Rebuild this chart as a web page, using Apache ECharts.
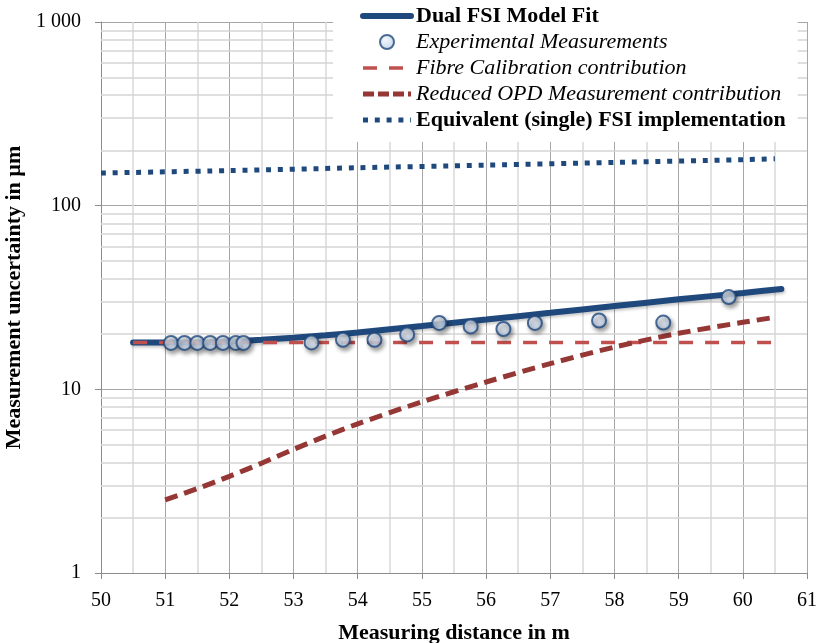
<!DOCTYPE html>
<html>
<head>
<meta charset="utf-8">
<script src="https://cdn.jsdelivr.net/npm/echarts@6/dist/echarts.min.js"></script>
<style>
html,body{margin:0;padding:0;background:#fff;}
#c{width:817px;height:643px;}
</style>
</head>
<body>
<div id="c"></div>
<script>
// ---- data ----
var seriesNames = ['Dual FSI Model Fit', 'Experimental Measurements', 'Fibre Calibration contribution', 'Reduced OPD Measurement contribution', 'Equivalent (single) FSI implementation'];

var modelX = [50.5, 51, 51.5, 52, 52.5, 53, 53.5, 54, 55, 56, 57, 58, 59, 60, 60.6];
var modelY = [18.0, 18.0, 18.0, 18.2, 18.6, 19.1, 19.7, 20.4, 22.1, 24.0, 26.1, 28.4, 30.9, 33.5, 35.2];

var expX = [51.09, 51.3, 51.5, 51.7, 51.9, 52.1, 52.22, 53.28, 53.77, 54.26, 54.77, 55.27, 55.76, 56.27, 56.76, 57.76, 58.76, 59.78];
var expY = [17.9, 17.9, 17.9, 17.9, 17.9, 17.9, 17.9, 18.0, 18.6, 18.6, 19.9, 23.0, 22.0, 21.3, 23.0, 23.7, 23.1, 31.8];

var fibreX = [50.5, 60.5];
var fibreY = [18.0, 18.0];

var opdX = [51, 51.5, 52, 52.5, 53, 53.5, 54, 55, 56, 57, 58, 59, 60, 60.5];
var opdY = [2.50, 2.88, 3.36, 3.96, 4.71, 5.56, 6.49, 8.55, 10.96, 13.80, 16.98, 20.18, 23.17, 24.66];

var singleX = [50, 52, 54, 56, 58, 60, 60.5];
var singleY = [150.5, 155.3, 160.8, 166.3, 172.0, 178.0, 180.0];

var yTickValues = [1, 10, 100, 1000];
var yTickLabels = ['1', '10', '100', '1 000'];
var yMinorGrid = [2,3,4,5,6,7,8,9,20,30,40,50,60,70,80,90,200,300,400,500,600,700,800,900];

function pairs(xs, ys){ return xs.map(function(x,i){ return [x, ys[i]]; }); }

var FONT = 'Liberation Serif';
var BLUE = '#1F497D', RED = '#C0504D', DARKRED = '#953735';
var chart = echarts.init(document.getElementById('c'), null, {renderer:'canvas'});

var hideSym = { opacity: 0 };

var option = {
  animation: false,
  backgroundColor: '#ffffff',
  grid: { left: 101, right: 10, top: 22, bottom: 70, containLabel: false, outerBoundsMode: 'none' },
  legend: {
    orient: 'vertical',
    left: 333, top: 0,
    padding: [5, 12, 11, 27],
    backgroundColor: '#ffffff',
    itemWidth: 48, itemHeight: 14, itemGap: 4,
    textStyle: { fontFamily: FONT, fontSize: 22, color: '#000', lineHeight: 22 },
    data: [
      { name: seriesNames[0], textStyle: { fontWeight: 'bold' }, itemStyle: hideSym,
        lineStyle: { width: 6, color: BLUE, type: 'solid', cap: 'round' } },
      { name: seriesNames[1], textStyle: { fontStyle: 'italic' } },
      { name: seriesNames[2], textStyle: { fontStyle: 'italic' }, itemStyle: hideSym,
        lineStyle: { width: 3.5, color: RED, type: [14, 12] } },
      { name: seriesNames[3], textStyle: { fontStyle: 'italic' }, itemStyle: hideSym,
        lineStyle: { width: 5, color: DARKRED, type: [11, 4] } },
      { name: seriesNames[4], textStyle: { fontWeight: 'bold' }, itemStyle: hideSym,
        lineStyle: { width: 5, color: BLUE, type: [5, 6.8] } }
    ]
  },
  xAxis: {
    type: 'value', min: 50, max: 61, interval: 1,
    name: 'Measuring distance in m', nameLocation: 'middle', nameGap: 49,
    nameTextStyle: { fontFamily: FONT, fontSize: 22, fontWeight: 'bold', color: '#000' },
    axisLine: { show: true, onZero: false, lineStyle: { color: '#8c8c8c', width: 1 } },
    axisTick: { show: true, length: 6, lineStyle: { color: '#8c8c8c' } },
    axisLabel: { fontFamily: FONT, fontSize: 20, color: '#000', margin: 18 },
    splitLine: { show: true, lineStyle: { color: '#a6a6a6', width: 1 } },
    minorTick: { show: false, splitNumber: 2 },
    minorSplitLine: { show: true, lineStyle: { color: '#d9d9d9', width: 1.5 } }
  },
  yAxis: {
    type: 'log', logBase: 10, min: 1, max: 1000,
    name: 'Measurement uncertainty in µm', nameLocation: 'middle', nameGap: 67,
    nameTextStyle: { fontFamily: FONT, fontSize: 22, fontWeight: 'bold', color: '#000' },
    axisLine: { show: true, lineStyle: { color: '#8c8c8c', width: 1 } },
    axisTick: { show: true, length: 6, lineStyle: { color: '#8c8c8c' } },
    axisLabel: {
      fontFamily: FONT, fontSize: 20, color: '#000', margin: 20,
      formatter: function(v){ var i = yTickValues.indexOf(Math.round(v)); return i >= 0 ? yTickLabels[i] : ''; }
    },
    splitLine: { show: true, lineStyle: { color: '#a6a6a6', width: 1 } }
  },
  series: [
    {
      name: '_grid', type: 'line', data: [], z: 1, silent: true,
      markLine: {
        z: 1, silent: true, symbol: ['none','none'], label: { show: false },
        lineStyle: { color: '#d4d4d4', width: 1.5, type: 'solid' },
        emphasis: { disabled: true },
        data: yMinorGrid.map(function(v){ return { yAxis: v }; })
      }
    },
    {
      name: seriesNames[0], type: 'line', data: pairs(modelX, modelY), z: 3,
      showSymbol: false, symbol: 'none', smooth: 0.2,
      lineStyle: { color: BLUE, width: 6, cap: 'round',
        shadowColor: 'rgba(0,0,0,0.22)', shadowBlur: 3, shadowOffsetX: 1, shadowOffsetY: 2 },
      itemStyle: { color: BLUE }
    },
    {
      name: seriesNames[2], type: 'line', data: pairs(fibreX, fibreY), z: 4,
      showSymbol: false, symbol: 'none',
      lineStyle: { color: RED, width: 3.5, type: [14, 12], cap: 'butt' },
      itemStyle: { color: RED }
    },
    {
      name: seriesNames[3], type: 'line', data: pairs(opdX, opdY), z: 4,
      showSymbol: false, symbol: 'none', smooth: 0.3,
      lineStyle: { color: DARKRED, width: 5, type: [13, 7], cap: 'butt' },
      itemStyle: { color: DARKRED }
    },
    {
      name: seriesNames[4], type: 'line', data: pairs(singleX, singleY), z: 3,
      showSymbol: false, symbol: 'none', smooth: 0.3,
      lineStyle: { color: BLUE, width: 5, type: [5, 6.8], cap: 'butt' },
      itemStyle: { color: BLUE }
    },
    {
      name: seriesNames[1], type: 'scatter', data: pairs(expX, expY), z: 5,
      symbol: 'circle', symbolSize: 14,
      itemStyle: {
        color: new echarts.graphic.RadialGradient(0.4, 0.35, 0.7, [
          { offset: 0, color: '#f2f6fc' }, { offset: 1, color: '#b6cae8' }
        ]),
        borderColor: BLUE, borderWidth: 2,
        shadowColor: 'rgba(0,0,0,0.45)', shadowBlur: 4, shadowOffsetX: 2, shadowOffsetY: 3
      }
    }
  ]
};
chart.setOption(option);
</script>
</body>
</html>
